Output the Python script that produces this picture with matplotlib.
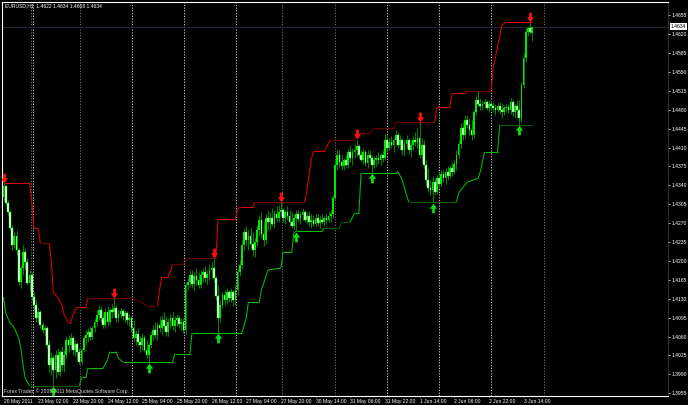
import matplotlib
matplotlib.use("Agg")
import matplotlib.pyplot as plt
import numpy as np
from matplotlib.path import Path
from matplotlib.transforms import offset_copy

plt.rcParams['font.family'] = ['Liberation Sans', 'DejaVu Sans']

# EURUSD H1 bars, prices in pips (14344 -> 1.4344)
open_pips = [
    14318, 14339, 14307, 14291, 14261, 14229, 14246, 14220, 14161, 14187, 14217, 14198, 14159, 14174, 14133, 14118, 14094, 14106, 14081, 14072,
    14076, 14044, 14007, 14020, 13998, 14026, 13995, 14032, 14007, 14026, 14054, 14044, 14057, 14035, 14046, 14032, 14013, 14035, 14057, 14063,
    14069, 14059, 14076, 14087, 14100, 14109, 14094, 14081, 14106, 14087, 14109, 14106, 14113, 14094, 14102, 14107, 14098, 14104, 14091, 14094,
    14076, 14057, 14065, 14050, 14044, 14057, 14035, 14026, 14044, 14063, 14072, 14063, 14081, 14076, 14091, 14080, 14069, 14087, 14094, 14080,
    14091, 14094, 14083, 14087, 14072, 14155, 14161, 14174, 14157, 14172, 14165, 14155, 14174, 14180, 14168, 14176, 14183, 14187, 14168, 14135,
    14094, 14118, 14137, 14128, 14143, 14131, 14143, 14128, 14146, 14180, 14192, 14229, 14254, 14239, 14246, 14231, 14220, 14235, 14257, 14276,
    14250, 14239, 14279, 14272, 14279, 14268, 14287, 14279, 14291, 14294, 14279, 14291, 14283, 14272, 14265, 14279, 14287, 14278, 14285, 14291,
    14276, 14283, 14272, 14276, 14268, 14279, 14270, 14276, 14272, 14279, 14276, 14283, 14287, 14316, 14377, 14396, 14383, 14376, 14387, 14377,
    14402, 14390, 14402, 14405, 14413, 14396, 14387, 14402, 14381, 14396, 14390, 14377, 14387, 14390, 14387, 14396, 14390, 14424, 14409, 14420,
    14414, 14424, 14433, 14414, 14424, 14405, 14416, 14424, 14405, 14414, 14424, 14420, 14427, 14396, 14414, 14377, 14350, 14335, 14331, 14346,
    14328, 14353, 14342, 14361, 14353, 14365, 14357, 14372, 14365, 14379, 14396, 14416, 14446, 14433, 14461, 14451, 14442, 14433, 14476, 14498,
    14490, 14487, 14490, 14494, 14483, 14490, 14487, 14483, 14479, 14487, 14479, 14476, 14483, 14485, 14479, 14494, 14476, 14487, 14479, 14464,
    14526, 14575, 14624, 14631, 14622]
high_pips = [
    14344, 14341, 14313, 14294, 14266, 14254, 14257, 14224, 14192, 14229, 14224, 14205, 14183, 14180, 14143, 14128, 14113, 14109, 14087, 14081,
    14080, 14054, 14032, 14026, 14035, 14039, 14035, 14043, 14035, 14061, 14063, 14067, 14061, 14054, 14050, 14039, 14039, 14063, 14072, 14076,
    14080, 14081, 14094, 14109, 14118, 14117, 14106, 14113, 14117, 14113, 14120, 14131, 14118, 14109, 14113, 14111, 14109, 14107, 14102, 14098,
    14091, 14072, 14076, 14061, 14067, 14063, 14054, 14050, 14069, 14081, 14087, 14087, 14098, 14100, 14106, 14098, 14094, 14102, 14106, 14098,
    14102, 14100, 14094, 14094, 14161, 14168, 14183, 14183, 14180, 14187, 14180, 14183, 14187, 14191, 14183, 14194, 14198, 14205, 14172, 14155,
    14128, 14143, 14146, 14150, 14146, 14150, 14146, 14155, 14187, 14202, 14239, 14261, 14265, 14257, 14261, 14254, 14242, 14266, 14285, 14291,
    14272, 14287, 14294, 14291, 14298, 14294, 14302, 14303, 14309, 14298, 14294, 14302, 14294, 14291, 14287, 14294, 14294, 14291, 14298, 14294,
    14291, 14292, 14287, 14285, 14287, 14287, 14283, 14287, 14283, 14287, 14291, 14294, 14322, 14387, 14405, 14405, 14396, 14390, 14396, 14409,
    14414, 14409, 14414, 14424, 14416, 14405, 14409, 14405, 14405, 14405, 14396, 14394, 14396, 14402, 14400, 14405, 14435, 14433, 14427, 14431,
    14427, 14442, 14439, 14433, 14427, 14424, 14433, 14427, 14424, 14431, 14439, 14446, 14457, 14427, 14424, 14387, 14372, 14350, 14357, 14353,
    14359, 14365, 14368, 14368, 14372, 14376, 14377, 14383, 14387, 14405, 14424, 14455, 14457, 14470, 14470, 14464, 14461, 14479, 14507, 14514,
    14501, 14498, 14501, 14498, 14498, 14498, 14494, 14490, 14492, 14494, 14490, 14488, 14490, 14490, 14501, 14498, 14490, 14498, 14498, 14531,
    14585, 14631, 14635, 14642, 14634]
low_pips = [
    14313, 14303, 14285, 14257, 14220, 14224, 14211, 14155, 14150, 14174, 14183, 14155, 14146, 14128, 14109, 14087, 14087, 14076, 14067, 14061,
    14039, 13995, 13989, 13969, 13983, 13989, 13987, 13998, 13995, 14020, 14032, 14035, 14026, 14024, 14017, 14009, 14009, 14032, 14044, 14050,
    14054, 14054, 14069, 14080, 14091, 14087, 14076, 14076, 14080, 14081, 14094, 14098, 14087, 14087, 14094, 14091, 14087, 14083, 14080, 14069,
    14050, 14044, 14043, 14032, 14035, 14032, 14020, 14013, 14039, 14054, 14057, 14054, 14069, 14063, 14072, 14061, 14061, 14076, 14072, 14069,
    14080, 14076, 14072, 14067, 14065, 14146, 14152, 14150, 14146, 14155, 14150, 14150, 14161, 14161, 14155, 14165, 14168, 14161, 14128, 14067,
    14087, 14113, 14118, 14120, 14124, 14124, 14117, 14118, 14137, 14172, 14187, 14220, 14229, 14220, 14224, 14209, 14207, 14228, 14246, 14242,
    14228, 14231, 14257, 14257, 14265, 14261, 14272, 14272, 14283, 14272, 14268, 14276, 14265, 14261, 14257, 14255, 14272, 14268, 14276, 14272,
    14268, 14265, 14261, 14265, 14265, 14265, 14261, 14268, 14265, 14268, 14272, 14272, 14279, 14313, 14368, 14372, 14368, 14368, 14372, 14372,
    14383, 14377, 14390, 14394, 14390, 14383, 14379, 14376, 14372, 14383, 14363, 14372, 14376, 14379, 14377, 14383, 14387, 14402, 14405, 14409,
    14402, 14414, 14409, 14405, 14396, 14394, 14409, 14398, 14392, 14405, 14413, 14409, 14390, 14383, 14372, 14340, 14328, 14322, 14309, 14322,
    14324, 14335, 14339, 14346, 14342, 14350, 14353, 14357, 14361, 14368, 14390, 14409, 14424, 14427, 14446, 14433, 14424, 14427, 14470, 14487,
    14479, 14479, 14483, 14479, 14476, 14479, 14476, 14470, 14476, 14472, 14464, 14470, 14476, 14474, 14472, 14468, 14464, 14464, 14452, 14457,
    14520, 14568, 14616, 14620, 14608]
close_pips = [
    14339, 14307, 14291, 14261, 14229, 14246, 14220, 14161, 14187, 14217, 14198, 14159, 14174, 14133, 14118, 14094, 14106, 14081, 14072, 14076,
    14044, 14007, 14020, 13998, 14026, 13995, 14032, 14007, 14026, 14054, 14044, 14057, 14035, 14046, 14032, 14013, 14035, 14057, 14063, 14069,
    14059, 14076, 14087, 14100, 14109, 14094, 14081, 14106, 14087, 14109, 14106, 14113, 14094, 14102, 14107, 14098, 14104, 14091, 14094, 14076,
    14057, 14065, 14050, 14044, 14057, 14035, 14026, 14044, 14063, 14072, 14063, 14081, 14076, 14091, 14080, 14069, 14087, 14094, 14080, 14091,
    14094, 14083, 14087, 14072, 14155, 14161, 14174, 14157, 14172, 14165, 14155, 14174, 14180, 14168, 14176, 14183, 14187, 14168, 14135, 14094,
    14118, 14137, 14128, 14143, 14131, 14143, 14128, 14146, 14180, 14192, 14229, 14254, 14239, 14246, 14231, 14220, 14235, 14257, 14276, 14250,
    14239, 14279, 14272, 14279, 14268, 14287, 14279, 14291, 14294, 14279, 14291, 14283, 14272, 14265, 14279, 14287, 14278, 14285, 14291, 14276,
    14283, 14272, 14276, 14268, 14279, 14270, 14276, 14272, 14279, 14276, 14283, 14287, 14316, 14377, 14396, 14383, 14376, 14387, 14377, 14402,
    14390, 14402, 14405, 14413, 14396, 14387, 14402, 14381, 14396, 14390, 14377, 14387, 14390, 14387, 14396, 14390, 14424, 14409, 14420, 14414,
    14424, 14433, 14414, 14424, 14405, 14416, 14424, 14405, 14414, 14424, 14420, 14427, 14396, 14414, 14377, 14350, 14335, 14331, 14346, 14328,
    14353, 14342, 14361, 14353, 14365, 14357, 14372, 14365, 14379, 14396, 14416, 14446, 14433, 14461, 14451, 14442, 14433, 14476, 14498, 14490,
    14487, 14490, 14494, 14483, 14490, 14487, 14483, 14479, 14487, 14479, 14476, 14483, 14485, 14479, 14494, 14476, 14487, 14479, 14464, 14526,
    14575, 14624, 14631, 14624, 14634]

# price channel (upper / lower band), read at its break points
upper_bar = [0, 12, 13, 14, 16, 17, 21, 22, 23, 25, 27, 28, 30, 31, 32, 34, 38, 39, 59, 63,
             66, 71, 72, 73, 76, 78, 83, 85, 98, 99, 107, 108, 109, 115, 116, 139, 140, 142, 143, 148,
             150, 151, 162, 163, 169, 171, 180, 181, 199, 200, 206, 207, 213, 214, 225, 226, 228, 230, 232, 244]
upper_pips = [14344, 14344, 14313, 14261, 14261, 14233, 14233, 14202, 14141, 14133, 14118, 14100, 14085, 14085, 14100, 14115, 14115, 14131, 14131, 14124,
              14117, 14117, 14146, 14170, 14170, 14194, 14194, 14205, 14205, 14278, 14278, 14294, 14300, 14300, 14309, 14309, 14331, 14387, 14403, 14403,
              14418, 14424, 14424, 14437, 14437, 14446, 14446, 14457, 14457, 14485, 14485, 14511, 14511, 14514, 14514, 14559, 14596, 14637, 14642, 14642]
lower_bar = [0, 1, 3, 5, 7, 8, 9, 10, 12, 35, 36, 38, 39, 46, 48, 49, 52, 53, 55, 78,
             79, 86, 87, 110, 112, 113, 118, 119, 122, 128, 129, 133, 134, 135, 147, 148, 155, 156, 160, 162,
             164, 165, 181, 182, 184, 186, 187, 209, 210, 214, 219, 220, 222, 228, 229, 244]
lower_pips = [14133, 14104, 14085, 14076, 14057, 14039, 14007, 13983, 13969, 13969, 13985, 13985, 14002, 14002, 14017, 14032, 14032, 14020, 14013, 14013,
              14028, 14028, 14067, 14067, 14094, 14124, 14124, 14146, 14183, 14187, 14217, 14217, 14252, 14255, 14255, 14261, 14261, 14272, 14272, 14289,
              14289, 14363, 14363, 14365, 14350, 14322, 14309, 14309, 14326, 14346, 14353, 14365, 14402, 14402, 14452, 14452]
upper_dark = [(17, 21), (39, 71), (78, 98), (116, 139), (151, 199), (214, 225)]
lower_dark = [(12, 35), (148, 160), (187, 209), (229, 244)]

# signal arrows (bar index)
sell_bars = [0, 51, 97, 128, 163, 192, 243]
buy_bars = [23, 67, 99, 135, 170, 198, 238]

# day separators (bar position)
sep_white = [13.5, 59.4, 83.2, 107.4, 177, 201, 225]
sep_grey = [12.6, 35.2, 128.3, 152.9, 249.2]

time_ticks = [0, 16, 32, 48, 64, 80, 96, 112, 128, 144, 160, 176, 192, 208, 224, 240]
time_labels = ["20 May 2011", "23 May 02:00", "23 May 20:00", "24 May 12:00", "25 May 04:00",
               "25 May 20:00", "26 May 12:00", "27 May 04:00", "27 May 20:00", "30 May 14:00",
               "31 May 06:00", "31 May 22:00", "1 Jun 14:00", "2 Jun 06:00", "2 Jun 22:00", "3 Jun 14:00"]
price_ticks = [1.4655 - 0.0035 * k for k in range(21)]
bid = 1.4634

o = np.array(open_pips) / 1e4
h = np.array(high_pips) / 1e4
l = np.array(low_pips) / 1e4
c = np.array(close_pips) / 1e4
x = np.arange(len(o))
bull = c >= o

fig = plt.figure(figsize=(6.88, 4.05), dpi=100, facecolor='black')
ax = fig.add_axes([2 / 688, 9 / 405, 666 / 688, 394.3 / 405])
ax.set_facecolor('black')

for b in sep_grey:
    ax.axvline(b, color='#7a7a7a', lw=0.6, ls=(0, (1.5, 1.8)), zorder=1)
for b in sep_white:
    ax.axvline(b, color='#e8e8e8', lw=0.6, ls=(0, (1.5, 1.8)), zorder=1)
ax.axhline(bid, color='#262636', lw=0.7, zorder=1)

# channel lines
def draw_band(bars, pips, dark, bright_col, dark_col):
    vals = np.array(pips) / 1e4
    for k in range(len(bars) - 1):
        is_dark = any(a <= bars[k] and bars[k + 1] <= b for a, b in dark)
        ax.plot(bars[k:k + 2], vals[k:k + 2], color=dark_col if is_dark else bright_col,
                lw=0.75, zorder=2, solid_capstyle='butt')

draw_band(upper_bar, upper_pips, upper_dark, '#e00000', '#6e0000')
draw_band(lower_bar, lower_pips, lower_dark, '#00c000', '#006000')

# candles
ax.vlines(x, l, h, color='#008a00', lw=0.7, zorder=3)
ax.bar(x[bull], (c - o)[bull], bottom=o[bull], width=0.8, color='#00e800', lw=0, zorder=4)
ax.bar(x[~bull], (o - c)[~bull], bottom=c[~bull], width=0.8, facecolor='white',
       edgecolor='#00e800', lw=0.35, zorder=4)

# arrows
down_arrow = Path([(-0.28, 1), (0.28, 1), (0.28, 0.05), (0.75, 0.05), (0, -1), (-0.75, 0.05), (-0.28, 0.05), (-0.28, 1)], closed=True)
up_arrow = Path([(-0.28, -1), (0.28, -1), (0.28, -0.05), (0.75, -0.05), (0, 1), (-0.75, -0.05), (-0.28, -0.05), (-0.28, -1)], closed=True)
ax.plot(x[sell_bars], h[sell_bars], ls='none', marker=down_arrow, ms=7, color='#ff1010', mew=0,
        transform=offset_copy(ax.transData, fig=fig, y=4.0, units='points'), zorder=5)
ax.plot(x[buy_bars], l[buy_bars], ls='none', marker=up_arrow, ms=7, color='#10e010', mew=0,
        transform=offset_copy(ax.transData, fig=fig, y=-4.0, units='points'), zorder=5)

ax.set_xlim(-0.7, -0.7 + 666 / 2.167)
ax.set_ylim(1.3950, 1.4680)

# axes frame
for side in ['left', 'top', 'bottom']:
    ax.spines[side].set_color('white')
    ax.spines[side].set_linewidth(0.8)
ax.spines['right'].set_color('#4a4a4a')
ax.spines['right'].set_linewidth(0.6)
ax.spines['right'].set_linestyle(':')

ax.yaxis.tick_right()
ax.set_yticks(price_ticks)
ax.set_yticklabels(['%.4f' % p for p in price_ticks])
ax.tick_params(axis='y', colors='white', labelsize=3.6, length=1.5, width=0.5, pad=1.2)
ax.set_xticks(time_ticks)
ax.set_xticklabels(time_labels)
ax.tick_params(axis='x', colors='white', labelsize=3.6, length=1, width=0.5, pad=1.0)
for lbl in ax.get_xticklabels():
    lbl.set_ha('left')

ax.text(1.004, bid, '%.4f' % bid, transform=ax.get_yaxis_transform(), fontsize=3.6,
        color='black', va='center', ha='left',
        bbox=dict(facecolor='white', edgecolor='none', pad=0.7))

fig.text(5 / 688, 1 - 6 / 405, "EURUSD,H1  1.4622 1.4634 1.4608 1.4634", color='white',
         fontsize=3.6, va='center', ha='left')
fig.text(4 / 688, 1 - 391.5 / 405, "Forex Trader, \u00a9 2005-2011 MetaQuotes Software Corp.",
         color='#d8d8d8', fontsize=3.6, va='center', ha='left')

fig.savefig('out.png', dpi=100, facecolor='black')
